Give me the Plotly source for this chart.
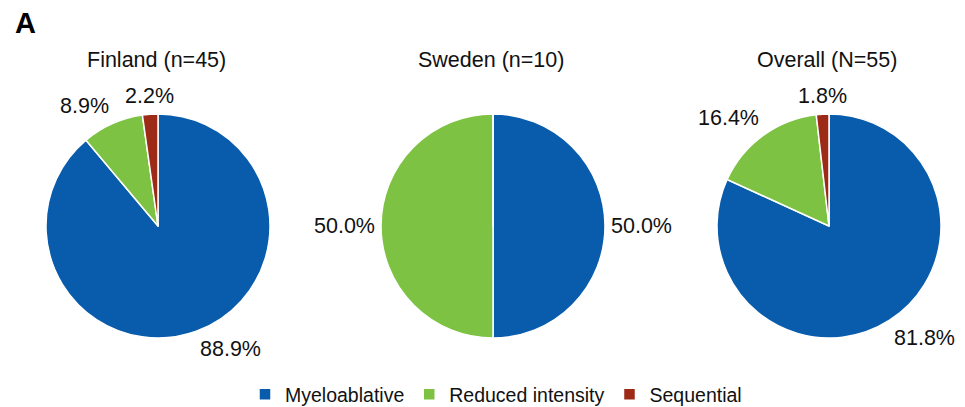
import math
import plotly.graph_objects as go

categories = ["Myeloablative", "Reduced intensity", "Sequential"]
panels = ["Finland (n=45)", "Sweden (n=10)", "Overall (N=55)"]
finland = [40, 4, 1]
sweden = [5, 5, 0]
overall = [45, 9, 1]
labels_pct = [["88.9%", "8.9%", "2.2%"], ["50.0%", "50.0%", ""], ["81.8%", "16.4%", "1.8%"]]
colors = ["#085CAB", "#7DC243", "#9C2A17"]

# page body has an 8px margin; work in target-pixel coordinates and shift
OFF = 8
W, H = 965 - OFF, 407 - OFF
FONT = "Liberation Sans, Arial, sans-serif"
centers = [158, 493, 829]
cy = 226
r = 112
gap = 4


def px(x):
    return (x - OFF) / W


def py(y):
    return 1 - (y - OFF) / H


fig = go.Figure()
for i, (vals, title) in enumerate(zip([finland, sweden, overall], panels)):
    cx = centers[i]
    fig.add_trace(go.Pie(
        labels=categories, values=vals, textinfo="none",
        sort=False, direction="clockwise", rotation=0,
        marker=dict(colors=colors, line=dict(color="white", width=1.5)),
        domain=dict(x=[px(cx - r), px(cx + r)], y=[py(cy + r), py(cy - r)]),
        showlegend=(i == 0), hoverinfo="label+percent",
    ))
    fig.add_annotation(text=title, x=px(cx - 2), y=py(60), xref="paper", yref="paper",
                       xanchor="center", yanchor="middle",
                       showarrow=False, font=dict(size=21.5, color="#111111", family=FONT))
    # data labels placed just outside each slice, at its mid-angle
    total = sum(vals)
    acc = 0
    for v, lab in zip(vals, labels_pct[i]):
        mid = (acc + v / 2) / total * 2 * math.pi
        acc += v
        if not lab:
            continue
        ux, uy = math.sin(mid), -math.cos(mid)
        lx, ly = cx + (r + gap) * ux, cy + (r + gap) * uy
        xa = "left" if ux > 0.2 else ("right" if ux < -0.2 else "center")
        ya = "top" if uy > 0.3 else ("bottom" if uy < -0.3 else "middle")
        fig.add_annotation(text=lab, x=px(lx), y=py(ly), xref="paper", yref="paper",
                           xanchor=xa, yanchor=ya, showarrow=False,
                           font=dict(size=21.5, color="#111111", family=FONT))

fig.add_annotation(text="<b>A</b>", x=px(13), y=py(23), xref="paper", yref="paper",
                   xanchor="left", yanchor="middle",
                   showarrow=False, font=dict(size=29, color="#000000", family=FONT))

fig.update_layout(
    width=W, height=H, margin=dict(l=0, r=0, t=0, b=0, autoexpand=False),
    paper_bgcolor="white", plot_bgcolor="white",
    legend=dict(orientation="h", x=px(496), xanchor="center", y=-0.018, yanchor="bottom",
                itemwidth=30,
                font=dict(size=19.5, color="#111111", family=FONT), traceorder="normal"),
)
fig.write_html("out.html")
